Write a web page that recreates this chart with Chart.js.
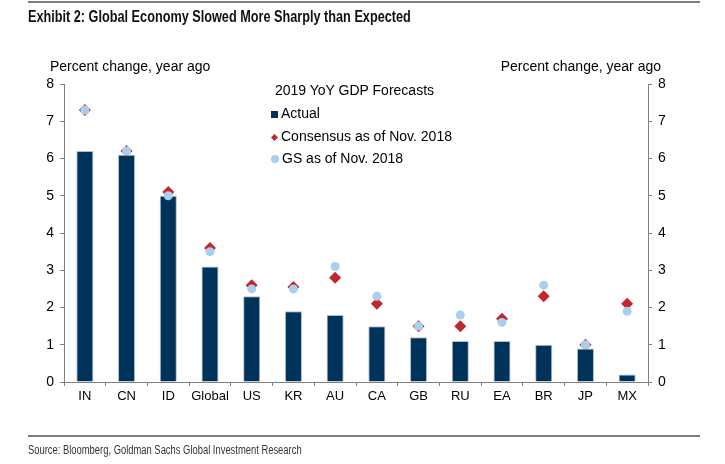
<!DOCTYPE html>
<html>
<head>
<meta charset="utf-8">
<script src="https://cdn.jsdelivr.net/npm/chart.js@4.4.1/dist/chart.umd.min.js"></script>
<style>
  body { margin: 0; background: #fff; font-family: "Liberation Sans", Arial, sans-serif; }
  #wrap { position: relative; width: 725px; height: 464px; }
  #chartGdp { position: absolute; left: 0; top: 0; }
  .txt { position: absolute; white-space: nowrap; color: #000; }
  .estrecho { transform-origin: 0 0; }
  .rule { position: absolute; left: 28px; width: 672px; height: 0; border-top: 2px solid #7f7f7f; }
  .mk { display: inline-block; vertical-align: middle; margin-right: 3px; }
</style>
</head>
<body>
<div id="wrap">
  <canvas id="chartGdp" width="725" height="464"></canvas>
  <div class="rule" style="top:1px"></div>
  <div class="txt estrecho" data-ancho="383" style="left:28px;top:8px;font-weight:bold;font-size:16px;color:#111;">Exhibit 2: Global Economy Slowed More Sharply than Expected</div>
  <div class="txt" style="left:50px;top:58px;font-size:14px;">Percent change, year ago</div>
  <div class="txt" style="right:64px;top:58px;font-size:14px;">Percent change, year ago</div>
  <div class="txt" style="left:275px;top:82px;font-size:14px;">2019 YoY GDP Forecasts</div>
  <div class="txt" style="left:271px;top:105px;font-size:14px;"><span class="mk" style="width:7px;height:7px;background:#003359;"></span>Actual</div>
  <div class="txt" style="left:271px;top:128px;font-size:14px;"><span class="mk" style="width:5px;height:5px;background:#c0282d;transform:rotate(45deg);margin-left:1px;margin-right:4px;"></span>Consensus as of Nov. 2018</div>
  <div class="txt" style="left:271px;top:150px;font-size:14px;"><span class="mk" style="width:8px;height:8px;border-radius:50%;background:#a9cfee;"></span>GS as of Nov. 2018</div>
  <div class="rule" style="top:435px"></div>
  <div class="txt estrecho" data-ancho="274" style="left:28px;top:443px;font-size:12px;color:#333;">Source: Bloomberg, Goldman Sachs Global Investment Research</div>
</div>
<script>
const paises = ['IN', 'CN', 'ID', 'Global', 'US', 'KR', 'AU', 'CA', 'GB', 'RU', 'EA', 'BR', 'JP', 'MX'];
const actual = [6.2, 6.1, 5.0, 3.1, 2.3, 1.9, 1.8, 1.5, 1.2, 1.1, 1.1, 1.0, 0.9, 0.2];
const consenso = [7.3, 6.2, 5.1, 3.6, 2.6, 2.55, 2.8, 2.1, 1.5, 1.5, 1.7, 2.3, 1.0, 2.1];
const gs = [7.3, 6.2, 5.0, 3.5, 2.5, 2.5, 3.1, 2.3, 1.5, 1.8, 1.6, 2.6, 1.0, 1.9];
const ticksY = [0, 1, 2, 3, 4, 5, 6, 7, 8];

// textos condensados: se estiran al ancho del original
document.querySelectorAll('.estrecho').forEach(el => {
    const escala = Number(el.dataset.ancho) / el.offsetWidth;
    el.style.transform = `scaleX(${escala})`;
});

const grisEje = '#808080';
const fuenteTicks = { family: 'Liberation Sans', size: 14 };

const context = document.getElementById('chartGdp').getContext('2d');

const ejeY = (pos) => ({
    position: pos,
    min: 0,
    max: 8,
    afterBuildTicks: (scale) => { scale.ticks = ticksY.map(v => ({ value: v })); },
    afterFit: (scale) => { scale.width = pos === 'left' ? 64 : 77; },
    border: { display: true, color: grisEje, width: 1 },
    grid: { drawOnChartArea: false, color: grisEje, tickLength: 4 },
    ticks: { color: '#000', font: fuenteTicks, padding: 6 }
});

const chartGdp = new Chart(context, {
    type: 'bar',
    data: {
        labels: paises,
        datasets: [
            {
                label: 'GS as of Nov. 2018',
                type: 'line',
                data: gs,
                showLine: false,
                pointStyle: 'circle',
                pointRadius: 4.5,
                pointBackgroundColor: '#a9cfee',
                pointBorderWidth: 0,
                order: 1
            },
            {
                label: 'Consensus as of Nov. 2018',
                type: 'line',
                data: consenso,
                showLine: false,
                pointStyle: 'rectRot',
                pointRadius: 6,
                pointBackgroundColor: '#c0282d',
                pointBorderWidth: 0,
                order: 2
            },
            {
                label: 'Actual',
                data: actual,
                backgroundColor: '#003359',
                borderColor: '#b4bccb',
                borderWidth: 1,
                barPercentage: 0.41,
                categoryPercentage: 1,
                yAxisID: 'y',
                order: 3
            }
        ]
    },
    options: {
        responsive: false,
        animation: false,
        layout: { padding: { top: 84, left: 0, right: 0, bottom: 0 } },
        plugins: { legend: { display: false }, tooltip: { enabled: false } },
        scales: {
            x: {
                offset: true,
                afterFit: (scale) => { scale.height = 82; },
                border: { display: true, color: grisEje, width: 1 },
                grid: { offset: true, drawOnChartArea: false, color: grisEje, tickLength: 4 },
                ticks: { color: '#000', font: { family: 'Liberation Sans', size: 13 }, padding: 3, maxRotation: 0, autoSkip: false }
            },
            y: ejeY('left'),
            y2: ejeY('right')
        }
    }
});
</script>
</body>
</html>
